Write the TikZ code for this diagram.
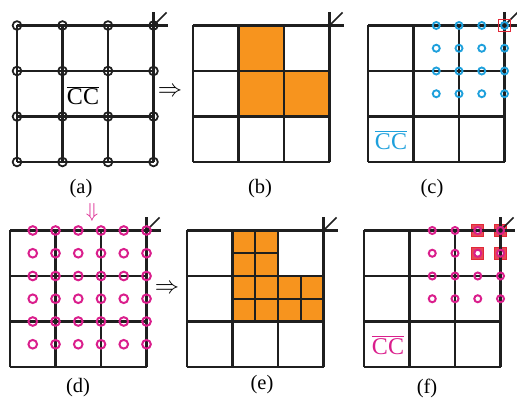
\documentclass[tikz,border=0pt]{standalone}
\usepackage{fontspec}
\setmainfont{Liberation Serif}
\definecolor{cellorange}{RGB}{247,148,30}
\definecolor{ringblue}{RGB}{30,160,220}
\definecolor{ringpink}{RGB}{218,30,140}
\definecolor{markred}{RGB}{226,40,56}

\tikzset{
  gridline/.style={line width=1.8pt, black!88},
  blackring/.style={draw=black!88, line width=1.5pt},
  bluering/.style={draw=ringblue, line width=1.6pt},
  pinkring/.style={draw=ringpink, line width=1.7pt},
  caption/.style={inner sep=0pt, font=\fontsize{17.5}{20}\selectfont},
  ccbar/.style={inner sep=0pt, font=\fontsize{20.5}{24}\selectfont},
  bigarrow/.style={inner sep=0pt, font=\fontsize{19.5}{22}\selectfont}
}

\begin{document}
\begin{tikzpicture}[x=0.03cm, y=0.03cm]
    \useasboundingbox (0,0) rectangle (517,399);

    % lower left corners of the six panels
    \coordinate (PA) at (17,237);
    \coordinate (PB) at (193,237);
    \coordinate (PC) at (368,237);
    \coordinate (PD) at (10,32);
    \coordinate (PE) at (187,32);
    \coordinate (PF) at (364,32);

    % orange cells in (b) and (e)
    \foreach \p in {PB,PE}
        \fill[cellorange, shift={(\p)}] (45.5,136.5) -- (91,136.5) -- (91,91) -- (136.5,91)
            -- (136.5,45.5) -- (45.5,45.5) -- cycle;

    % filled red squares in (f)
    \begin{scope}[shift={(PF)}]
        \foreach \x/\y in {113.75/136.5, 136.5/136.5, 113.75/113.75, 136.5/113.75} {
            \filldraw[fill=markred!85, draw=markred, line width=0.8pt] (\x,\y) ++(-6,-6) rectangle ++(12,12);
            \fill[white] (\x,\y) circle[radius=0.1cm];
        }
    \end{scope}

    % the 3x3 grids, with the mark at the top right corner
    \foreach \p in {PA,PB,PC,PD,PE,PF} {
        \begin{scope}[shift={(\p)}]
            \foreach \k in {0,1,2,3} {
                \draw[gridline] (\k*45.5,0) -- (\k*45.5,136.5);
                \draw[gridline] (0,\k*45.5) -- (136.5,\k*45.5);
            }
            \draw[gridline] (136.5,136.5) -- ++(0,13);
            \draw[gridline] (136.5,136.5) -- ++(14,0);
            \draw[gridline, line width=1.4pt] (136.5,136.5) -- ++(13,13);
        \end{scope}
    }

    % finer lines inside the orange cells of (e)
    \begin{scope}[shift={(PE)}]
        \draw[gridline] (68.25,45.5) -- (68.25,136.5);
        \draw[gridline] (113.75,45.5) -- (113.75,91);
        \draw[gridline] (45.5,68.25) -- (136.5,68.25);
        \draw[gridline] (45.5,113.75) -- (91,113.75);
    \end{scope}

    % (a): black rings on every crossing
    \begin{scope}[shift={(PA)}]
        \foreach \i in {0,1,2,3}
            \foreach \j in {0,1,2,3}
                \draw[blackring] (\i*45.5,\j*45.5) circle[radius=0.13cm];
    \end{scope}

    % (c): blue rings, one red square
    \begin{scope}[shift={(PC)}]
        \foreach \x in {68.25,91,113.75,136.5}
            \foreach \y in {68.25,91,113.75,136.5}
                \draw[bluering] (\x,\y) circle[radius=0.105cm];
        \draw[markred, line width=1.3pt] (136.5,136.5) ++(-6,-6) rectangle ++(12,12);
    \end{scope}

    % (d): pink rings at half steps
    \begin{scope}[shift={(PD)}]
        \foreach \i in {1,...,6}
            \foreach \j in {0,...,5}
                \draw[pinkring] (\i*22.75,136.5-\j*22.75) circle[radius=0.13cm];
    \end{scope}

    % (f): pink rings
    \begin{scope}[shift={(PF)}]
        \foreach \x in {68.25,91,113.75,136.5}
            \foreach \y in {68.25,91,113.75,136.5}
                \draw[pinkring] (\x,\y) circle[radius=0.105cm];
    \end{scope}

    % texts
    \node[ccbar] (cca) at (83,303) {$\overline{\mbox{CC}}$};
    \node[ccbar, text=ringblue] (ccc) at (391,259) {$\overline{\mbox{CC}}$};
    \node[ccbar, text=ringpink] (ccf) at (388,54) {$\overline{\mbox{CC}}$};

    \node[bigarrow] (toab) at (170,307) {$\Rightarrow$};
    \node[bigarrow] (tode) at (167,110) {$\Rightarrow$};
    \node[bigarrow, text=ringpink, font=\fontsize{17}{20}\selectfont] (downd) at (92,187) {$\Downarrow$};

    \node[caption] (lbla) at (81,210) {(a)};
    \node[caption] (lblb) at (260,210) {(b)};
    \node[caption] (lblc) at (432,210) {(c)};
    \node[caption] (lbld) at (78,11) {(d)};
    \node[caption] (lble) at (262,14) {(e)};
    \node[caption] (lblf) at (427,11) {(f)};

\end{tikzpicture}
\end{document}
